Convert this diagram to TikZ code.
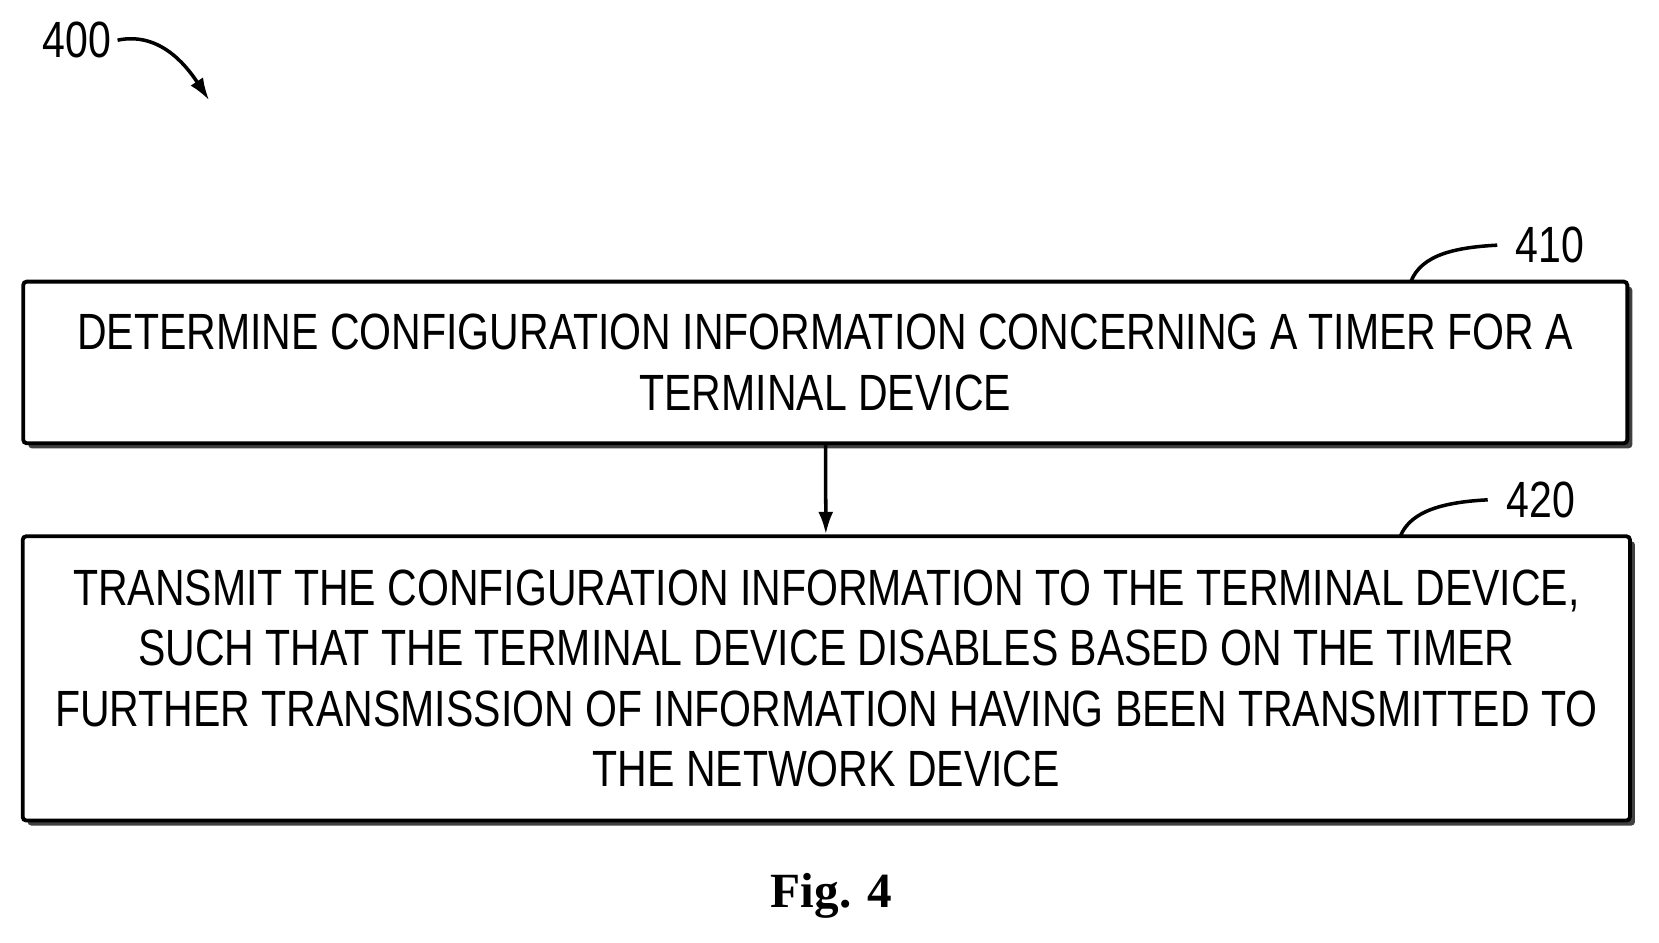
\documentclass[tikz,border=0pt]{standalone}
\usepackage{fontspec}
\setmainfont{Liberation Sans}[FakeStretch=0.805]
\newfontfamily\figfont{Liberation Serif}
\usetikzlibrary{positioning,shadows,arrows.meta}

\begin{document}
\begin{tikzpicture}[x=0.02114cm, y=-0.02114cm,
  box/.style = {draw, line width=2.2pt, rounded corners=2pt, fill=white, align=center,
    inner sep=0pt, font=\fontsize{29}{34.5}\selectfont,
    drop shadow={shadow xshift=0.1cm, shadow yshift=-0.1cm, fill=black!75, opacity=1}},
  lead/.style = {line width=2pt},
  tip/.style = {-{Latex[length=0.45cm, width=0.3cm]}},
  num/.style = {font=\fontsize{29}{34}\selectfont}]
\useasboundingbox (0,0) rectangle (1570,892);

\node[num] (n400) at (73,38) {400};
\draw[lead, tip] (n400.east) .. controls (150,30) and (175,60) .. (198,95);

\node[box, minimum width=1518*0.02114cm, minimum height=153*0.02114cm] (s410) at (781,343)
  {DETERMINE CONFIGURATION INFORMATION CONCERNING A TIMER FOR A\\ TERMINAL DEVICE};
\node[box, minimum width=1521*0.02114cm, minimum height=269*0.02114cm] (s420) at (782,642)
  {TRANSMIT THE CONFIGURATION INFORMATION TO THE TERMINAL DEVICE,\\
   SUCH THAT THE TERMINAL DEVICE DISABLES BASED ON THE TIMER\\
   FURTHER TRANSMISSION OF INFORMATION HAVING BEEN TRANSMITTED TO\\
   THE NETWORK DEVICE};

\node[num] (n410) at (1467,232) {410};
\coordinate (c410) at (1335,267);
\draw[lead] (c410) .. controls (1345,240) and (1380,234) .. ([xshift=-0.25cm]n410.west);
\node[num] (n420) at (1458,473) {420};
\coordinate (c420) at (1325,508);
\draw[lead] (c420) .. controls (1335,482) and (1370,475) .. ([xshift=-0.25cm]n420.west);

\draw[lead, tip] (s410) -- (s420);

\node[font=\fontsize{28}{34}\selectfont\bfseries\figfont] (fig) at (787,848) {Fig. 4};
\end{tikzpicture}
\end{document}
